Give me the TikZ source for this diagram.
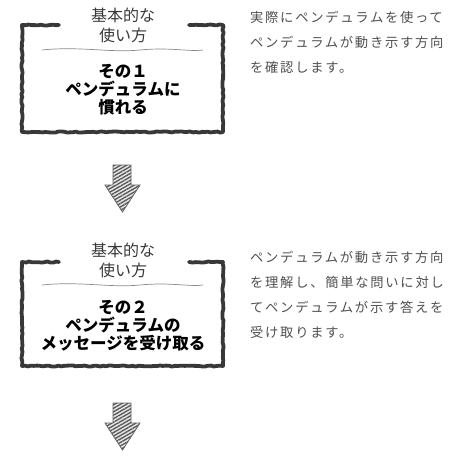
\documentclass[tikz,border=0pt]{standalone}
\usepackage{fontspec}
\setmainfont{Noto Sans CJK JP}
\newfontfamily\descfont[LetterSpace=13]{Noto Sans CJK JP}
\usetikzlibrary{decorations.pathmorphing,patterns.meta}
\definecolor{ink}{HTML}{383838}
\definecolor{pencil}{HTML}{8A8A8A}
\definecolor{notegray}{HTML}{4F4F4F}

\begin{document}
\begin{tikzpicture}[x=1pt, y=-1pt,
    frame/.style={draw=ink, line width=3.8pt, line cap=round, line join=round,
                  decorate, decoration={random steps, segment length=3pt, amplitude=0.6pt}},
    wave/.style={draw=pencil, line width=0.7pt},
    heading/.style={font=\fontsize{16}{20}\selectfont, text=ink, align=center,
                    inner sep=0pt},
    stage/.style={font=\fontsize{16.5}{18}\selectfont\bfseries, align=center,
                  inner sep=0pt},
    note/.style={font=\descfont\fontsize{13.3}{25}\selectfont, text=notegray,
                 align=left, inner sep=0pt, anchor=west},
    hatch/.style={draw=pencil!70!black, line width=0.8pt, preaction={fill=gray!20},
                  pattern={Lines[angle=30, distance=3pt, line width=1.3pt]},
                  pattern color=ink!85},
]
    \pgfmathsetseed{7}
    \useasboundingbox (0,0) rectangle (460,460);

    % sketchy frames and pencil lines
    \foreach \t/\b/\w in {25/132/50, 262/366/285} {
        \draw[frame] (59,\t) -- (22,\t) -- (22,\b) -- (223,\b) -- (223,\t) -- (189,\t);
        \draw[wave] (42,\w) .. controls (80,\w-4) and (110,\w+3) .. (140,\w)
                    .. controls (170,\w-3) and (190,\w+2) .. (203,\w);
    }

    % hatched down arrows
    \foreach \y in {165, 403} {
        \path[hatch] (113,\y) -- (131,\y) -- (131,\y+20) -- (140,\y+20)
                     -- (122.5,\y+47) -- (105,\y+20) -- (113,\y+20) -- cycle;
    }

    \node[heading] (title1) at (123,25)    {基本的な\\使い方};
    \node[stage]   (stage1) at (123,89.5)  {その１\\ペンデュラムに\\慣れる};
    \node[note]    (note1)  at (250,42.5)  {実際にペンデュラムを使って\\ペンデュラムが動き示す方向\\を確認します。};

    \node[heading] (title2) at (123,260.5) {基本的な\\使い方};
    \node[stage]   (stage2) at (123,326)   {その２\\ペンデュラムの\\メッセージを受け取る};
    \node[note]    (note2)  at (250,294.5) {ペンデュラムが動き示す方向\\を理解し、簡単な問いに対し\\てペンデュラムが示す答えを\\受け取ります。};
\end{tikzpicture}
\end{document}
